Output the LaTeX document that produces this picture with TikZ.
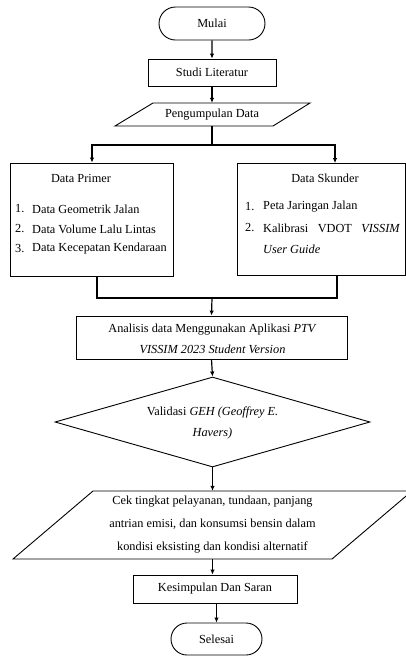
\documentclass[tikz,border=0pt]{standalone}
\usepackage{fontspec}
\setmainfont{Liberation Serif}
\usetikzlibrary{shapes.misc,shapes.geometric,arrows.meta}
\tikzset{
  box/.style={draw, line width=0.9pt, rectangle, inner sep=0pt},
  term/.style={draw, line width=0.9pt, rounded rectangle, inner sep=0pt},
  txt/.style={inner sep=0pt, align=center},
  lst/.style={inner sep=0pt, anchor=west},
  outline/.style={draw, line width=0.9pt, line join=miter},
  conn/.style={line width=1.2pt},
  arr/.style={line width=1.2pt, -{Latex[length=5pt,width=4.5pt]}},
}
\begin{document}
\begin{tikzpicture}[x=1pt,y=-1pt, font=\fontsize{12.3}{21}\selectfont]
\useasboundingbox (0,0) rectangle (406,657);
\fill[white] (0,0) rectangle (406,657);
% start
\node[term, minimum width=106pt, minimum height=33pt] (mulai) at (212,23.5) {Mulai};
\node[box, minimum width=128pt, minimum height=27pt] (studi) at (212,72.5) {Studi Literatur};
% pengumpulan (parallelogram)
\draw[outline] (153,103) -- (310,103) -- (273,126) -- (115,126) -- cycle;
\node[txt, minimum width=158pt, minimum height=23pt] (peng) at (212,114.5) {Pengumpulan Data};
% data boxes
\node[box, minimum width=163pt, minimum height=113pt] (prim) at (92,219.5) {};
\node[txt] (primt) at (81,178) {Data Primer};
\node[lst] (p1n) at (15,209) {1.};
\node[lst] (p1) at (32,209) {Data Geometrik Jalan};
\node[lst] (p2n) at (15,229) {2.};
\node[lst] (p2) at (32,229) {Data Volume Lalu Lintas};
\node[lst] (p3n) at (15,249) {3.};
\node[lst] (p3) at (32,249) {Data Kecepatan Kendaraan};
\node[box, minimum width=168pt, minimum height=112pt] (skun) at (321,219.5) {};
\node[txt] (skunt) at (325,178) {Data Skunder};
\node[lst] (s1n) at (245,207) {1.};
\node[lst] (s1) at (263,207) {Peta Jaringan Jalan};
\node[lst] (s2n) at (245,228) {2.};
\node[lst] (s2) at (263,228) {\makebox[137pt][s]{Kalibrasi\hfill VDOT\hfill \textit{VISSIM}}};
\node[lst] (s3) at (263,249) {\textit{User Guide}};
% analisis
\node[box, minimum width=271pt, minimum height=43pt] (anal) at (211.5,337.5) {};
\node[txt] (analt) at (212.5,338.5) {Analisis data Menggunakan Aplikasi \textit{PTV}\\\textit{VISSIM 2023 Student Version}};
% validasi
\node[draw, line width=0.9pt, diamond, inner sep=0pt, shape aspect=3.5, minimum width=315pt, minimum height=90pt] (val) at (212.5,422) {};
\node[txt] (valt) at (212.5,422.5) {Validasi \textit{GEH (Geoffrey E.}\\\textit{Havers)}};
% cek (parallelogram)
\draw[outline] (93,491) -- (412,491) -- (332,559) -- (13,559) -- cycle;
\node[txt, minimum width=240pt, minimum height=68pt, font=\fontsize{12.3}{23}\selectfont] (cek) at (212.5,525) {Cek tingkat pelayanan, tundaan, panjang\\antrian emisi, dan konsumsi bensin dalam\\kondisi eksisting dan kondisi alternatif};
\node[box, minimum width=164pt, minimum height=28pt] (kes) at (215,589) {Kesimpulan Dan Saran};
\node[term, minimum width=91pt, minimum height=32pt] (sel) at (216.5,639) {Selesai};
% connectors
\draw[arr] (mulai) -- (studi);
\draw[arr] (studi) -- (peng);
\coordinate (split) at (212,145);
\draw[conn] (peng.south) -- (split);
\draw[arr] (split) -| (prim.north);
\draw[arr] (split) -| ([xshift=14pt]skun.north);
\coordinate (join) at (212,298);
\draw[conn] ([xshift=5pt]prim.south) |- (join);
\draw[conn] ([xshift=16pt]skun.south) |- (join);
\draw[arr] (join) -- (anal.north);
\draw[arr] (anal.south) -- (val.north);
\draw[arr] (val.south) -- (cek.north);
\draw[arr] (cek.south) -- (kes.north -| cek.south);
\draw[arr] (kes.south -| sel.north) -- (sel.north);
\end{tikzpicture}
\end{document}
